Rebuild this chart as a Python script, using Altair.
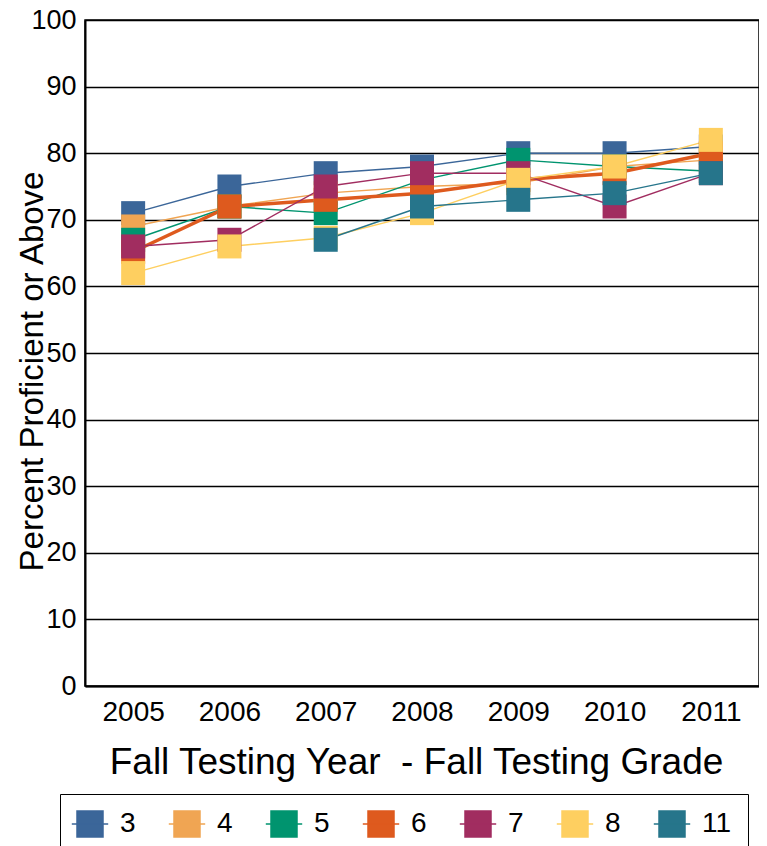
import altair as alt
import pandas as pd

years = ["2005", "2006", "2007", "2008", "2009", "2010", "2011"]
grades = ["3", "4", "5", "6", "7", "8", "11"]
colors = ["#3b6699", "#f0a553", "#00946f", "#de5a1e", "#a12d60", "#fecf60", "#26758b"]

g3 = [71, 75, 77, 78, 80, 80, 81]
g4 = [69, 72, 74, 75, 75.5, 78, 79]
g5 = [67, 72, 71, 76, 79, 78, 77.3]
g6 = [65.2, 72, 73, 74, 76, 77, 80]
g7 = [66, 67, 75, 77, 77, 72, 77]
g8 = [62, 66, 67.3, 71, 76, 78, 82]
g11 = [None, None, 67, 72, 73, 74, 77]

series = {"3": g3, "4": g4, "5": g5, "6": g6, "7": g7, "8": g8, "11": g11}

rows = []
for g in grades:
    for yr, v in zip(years, series[g]):
        if v is not None:
            rows.append({"year": yr, "grade": g, "value": v})
df = pd.DataFrame(rows)

FONT = "Liberation Sans"

legend = alt.Legend(
    title=None,
    orient="none",
    legendX=-25,
    legendY=774,
    direction="horizontal",
    columns=7,
    symbolType="M-1,-1H1V1H-1ZM-1.4,0H1.4",
    symbolSize=676,
    labelFontSize=28,
    labelFont=FONT,
    labelColor="black",
    labelOffset=16,
    columnPadding=29,
    padding=16,
    strokeColor="black",
    fillColor="white",
)

color = alt.Color("grade:O", sort=grades, scale=alt.Scale(domain=grades, range=colors), legend=legend)

x = alt.X(
    "year:O",
    sort=years,
    scale=alt.Scale(paddingOuter=0.5),
    axis=alt.Axis(
        title="Fall Testing Year \u00a0- Fall Testing Grade",
        labelAngle=0,
        labelFontSize=28,
        labelPadding=12,
        ticks=False,
        grid=False,
        domainWidth=2,
        titleFontSize=37,
        titlePadding=18,
        titleX=331,
    ),
)
y = alt.Y(
    "value:Q",
    scale=alt.Scale(domain=[0, 100], nice=False),
    axis=alt.Axis(
        title="Percent Proficient or Above",
        values=list(range(0, 101, 10)),
        labelFontSize=27,
        labelPadding=9,
        ticks=False,
        grid=True,
        gridColor="black",
        gridWidth=1.5,
        domainWidth=2,
        titleFontSize=33,
        titleX=-53,
        titleY=351,
        titleBaseline="middle",
    ),
)

base = alt.Chart(df)

lines = base.mark_line().encode(
    x=x,
    y=y,
    color=color,
    strokeWidth=alt.condition(alt.datum.grade == "6", alt.value(3.5), alt.value(1.4)),
    detail="grade:N",
)

points = base.mark_point(shape="square", filled=True, size=576, opacity=1, strokeWidth=0).encode(
    x=x, y=y, color=color
)

chart = (
    alt.layer(lines, points)
    .properties(
        width=674,
        height=666,
        autosize=alt.AutoSizeParams(type="none"),
        padding={"left": 77, "top": 12, "right": 0, "bottom": 170},
    )
    .configure_view(stroke="black", strokeWidth=1.5)
    .configure_axis(
        labelFont=FONT,
        titleFont=FONT,
        labelColor="black",
        titleColor="black",
        domainColor="black",
        titleFontWeight="normal",
    )
)

chart.save("out.html", embed_options={"renderer": "svg", "actions": False})
